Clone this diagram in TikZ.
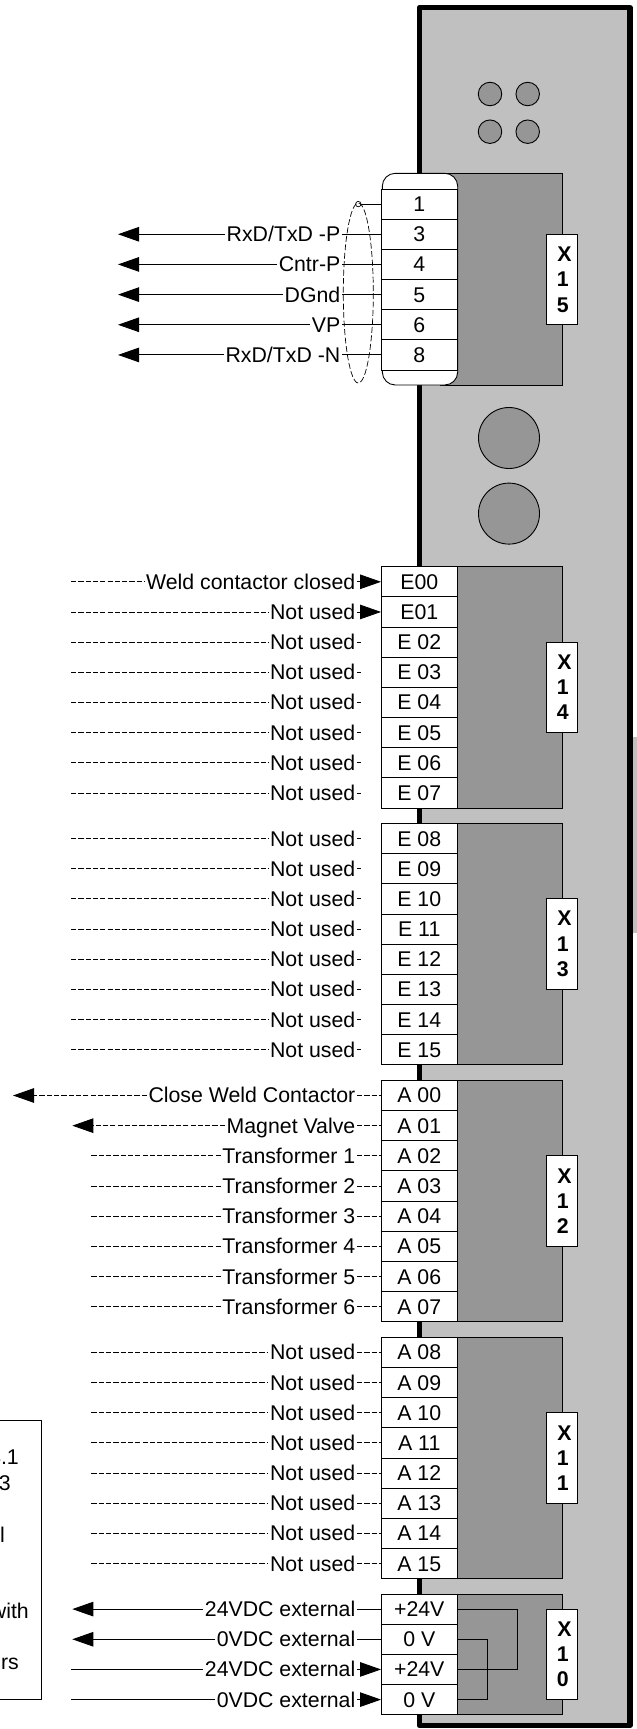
\documentclass[tikz,border=0pt]{standalone}
\usepackage{fontspec}
\setmainfont{Liberation Sans}
\usetikzlibrary{arrows.meta}
\definecolor{panelgrey}{HTML}{C0C0C0}
\definecolor{darkgrey}{HTML}{969696}
\tikzset{
  txt/.style={font=\fontsize{21.3}{25}\selectfont},
  pinbox/.style={draw=black,line width=0.9pt,fill=white,minimum width=75.5pt,minimum height=30.17pt,inner sep=0pt,text height=15pt,text depth=0pt,txt},
  sig/.style={inner xsep=1.5pt,inner ysep=0pt,text height=15pt,text depth=0pt,anchor=east,txt},
  xlabel/.style={draw=black,line width=0.9pt,fill=white,minimum width=30.4pt,minimum height=90.7pt,inner sep=0pt,align=center,font=\fontsize{21.3}{25.3}\selectfont\bfseries},
  block/.style={draw=black,line width=0.9pt,fill=darkgrey},
  hole/.style={draw=black,line width=0.9pt,fill=darkgrey,circle,inner sep=0pt},
  wire/.style={draw=black,line width=0.9pt},
  dashwire/.style={wire,dash pattern=on 5.2pt off 2.1pt},
  head/.style={-{Triangle[length=21pt,width=14.5pt]}},
}
\newcommand{\pinnode}[4]{%
  \pgfmathsetmacro\yc{#2+30.17*(#3+0.5)}%
  \node[pinbox] (#1) at (419.25,\yc) {#4};}
\newcommand{\siglabel}[3]{%
  \node[sig] (#1l) at (357,\yc) {#2};
  \coordinate (#1f) at (#3,\yc);}
\newcommand{\xtext}[2]{\kern5pt X\\\kern2pt #1\\\kern2pt #2}
\begin{document}
\begin{tikzpicture}[x=1pt,y=-1pt]
\useasboundingbox (0,0) rectangle (637,1729);
\clip (0,0) rectangle (637,1729);
% side strip and panel
\fill[panelgrey] (632,737) rectangle (637,933);
\draw[draw=black,line width=5.3pt,fill=panelgrey,line join=round] (419.5,7.5) rectangle (630,1725.5);
% holes
\node[hole,minimum size=23.5pt] (h1) at (490,94) {};
\node[hole,minimum size=23.5pt] (h2) at (527.7,94) {};
\node[hole,minimum size=23.5pt] (h3) at (490,131.7) {};
\node[hole,minimum size=23.5pt] (h4) at (527.7,131.7) {};
\node[hole,minimum size=61pt] (h5) at (509,438) {};
\node[hole,minimum size=61pt] (h6) at (509,513.6) {};
% connector blocks
\draw[block] (440,173.3) rectangle (562,385);
\draw[block] (457,566.7) rectangle (562,808);
\draw[block] (457,823.5) rectangle (562,1064.9);
\draw[block] (457,1080.4) rectangle (562,1321.8);
\draw[block] (457,1337.3) rectangle (562,1578.7);
\draw[block] (457,1594) rectangle (562,1714.7);
% labels of connectors
\node[xlabel] (x15) at (561.9,279.5) {\xtext{1}{5}};
\node[xlabel] (x14) at (561.9,687.3) {\xtext{1}{4}};
\node[xlabel] (x13) at (561.9,944) {\xtext{1}{3}};
\node[xlabel] (x12) at (561.9,1201) {\xtext{1}{2}};
\node[xlabel] (x11) at (561.9,1458) {\xtext{1}{1}};
\node[xlabel] (x10) at (561.9,1654.4) {\xtext{1}{0}};
% X15
\draw[draw=black,line width=0.9pt,fill=white,rounded corners=13pt] (382.3,173.3) rectangle (457.7,385);
\pinnode{k1}{189}{0}{1}
\node[hole,fill=white,minimum size=5.4pt,line width=0.7pt] (shieldend) at (358.3,\yc) {};
\draw[wire] (k1.west) -- (shieldend.east);
\foreach \i/\p/\s in {1/3/RxD\slash TxD -P,2/4/Cntr-P,3/5/DGnd,4/6/VP,5/8/RxD\slash TxD -N}{
  \pinnode{k\i}{189}{\i}{\p}
  \node[sig] (k\i l) at (342,\yc) {\s};
  \coordinate (k\i f) at (118,\yc);
  \draw[wire] (k\i.west) -- (k\i l.east);
  \draw[wire,head] (k\i l.west) -- (k\i f);
}
\draw[draw=black,line width=0.7pt,dash pattern=on 6pt off 2.5pt] (358.3,293) ellipse [x radius=15,y radius=90];
% X14
\pinnode{e0}{566.7}{0}{E00}
\siglabel{e0}{Weld contactor closed}{71}
\draw[dashwire] (e0f) -- (e0l.west);
\draw[wire,head] (e0l.east) -- (e0.west);
\pinnode{e1}{566.7}{1}{E01}
\siglabel{e1}{Not used}{71}
\draw[dashwire] (e1f) -- (e1l.west);
\draw[wire,head] (e1l.east) -- (e1.west);
\foreach \i/\p in {2/E 02,3/E 03,4/E 04,5/E 05,6/E 06,7/E 07}{
  \pinnode{e\i}{566.7}{\i}{\p}
  \siglabel{e\i}{Not used}{71}
  \coordinate (e\i s) at (360.5,\yc);
  \draw[dashwire] (e\i f) -- (e\i l.west);
  \draw[wire] (e\i l.east) -- (e\i s);
}
% X13
\foreach \i/\p in {0/E 08,1/E 09,2/E 10,3/E 11,4/E 12,5/E 13,6/E 14,7/E 15}{
  \pinnode{f\i}{823.5}{\i}{\p}
  \siglabel{f\i}{Not used}{71}
  \coordinate (f\i s) at (360.5,\yc);
  \draw[dashwire] (f\i f) -- (f\i l.west);
  \draw[wire] (f\i l.east) -- (f\i s);
}
% X12
\pinnode{a0}{1080.4}{0}{A 00}
\siglabel{a0}{Close Weld Contactor}{13}
\draw[dashwire,head] (a0l.west) -- (a0f);
\draw[dashwire] (a0l.east) -- (a0.west);
\pinnode{a1}{1080.4}{1}{A 01}
\siglabel{a1}{Magnet Valve}{72.3}
\draw[dashwire,head] (a1l.west) -- (a1f);
\draw[dashwire] (a1l.east) -- (a1.west);
\foreach \i/\p/\t in {2/A 02/1,3/A 03/2,4/A 04/3,5/A 05/4,6/A 06/5,7/A 07/6}{
  \pinnode{a\i}{1080.4}{\i}{\p}
  \siglabel{a\i}{Transformer \t}{91.4}
  \draw[dashwire] (a\i f) -- (a\i l.west);
  \draw[dashwire] (a\i l.east) -- (a\i.west);
}
% X11
\foreach \i/\p in {0/A 08,1/A 09,2/A 10,3/A 11,4/A 12,5/A 13,6/A 14,7/A 15}{
  \pinnode{b\i}{1337.3}{\i}{\p}
  \siglabel{b\i}{Not used}{91.4}
  \draw[dashwire] (b\i f) -- (b\i l.west);
  \draw[dashwire] (b\i l.east) -- (b\i.west);
}
% X10
\pinnode{c0}{1594}{0}{+24V}
\siglabel{c0}{24VDC external}{72.3}
\draw[wire,head] (c0l.west) -- (c0f);
\draw[wire] (c0l.east) -- (c0.west);
\pinnode{c1}{1594}{1}{0 V}
\siglabel{c1}{0VDC external}{72.3}
\draw[wire,head] (c1l.west) -- (c1f);
\draw[wire] (c1l.east) -- (c1.west);
\pinnode{c2}{1594}{2}{+24V}
\siglabel{c2}{24VDC external}{71}
\draw[wire] (c2f) -- (c2l.west);
\draw[wire,head] (c2l.east) -- (c2.west);
\pinnode{c3}{1594}{3}{0 V}
\siglabel{c3}{0VDC external}{71}
\draw[wire] (c3f) -- (c3l.west);
\draw[wire,head] (c3l.east) -- (c3.west);
\draw[wire] (c0.east) -- ++(59.5,0) |- (c2.east);
\draw[wire] (c1.east) -- ++(29.5,0) |- (c3.east);
% note box, cut by the left edge
\draw[wire] (-5,1420) -- (41.7,1420) -- (41.7,1699.7) -- (-5,1699.7);
\node[txt,anchor=base east,inner sep=0pt] (n1) at (19,1464) {4.1};
\node[txt,anchor=base east,inner sep=0pt] (n2) at (11,1490.5) {3};
\node[txt,anchor=base east,inner sep=0pt] (n3) at (5,1542.5) {al};
\node[txt,anchor=base east,inner sep=0pt] (n4) at (29,1618.5) {with};
\node[txt,anchor=base east,inner sep=0pt] (n5) at (19,1669.5) {rs};
\end{tikzpicture}
\end{document}
